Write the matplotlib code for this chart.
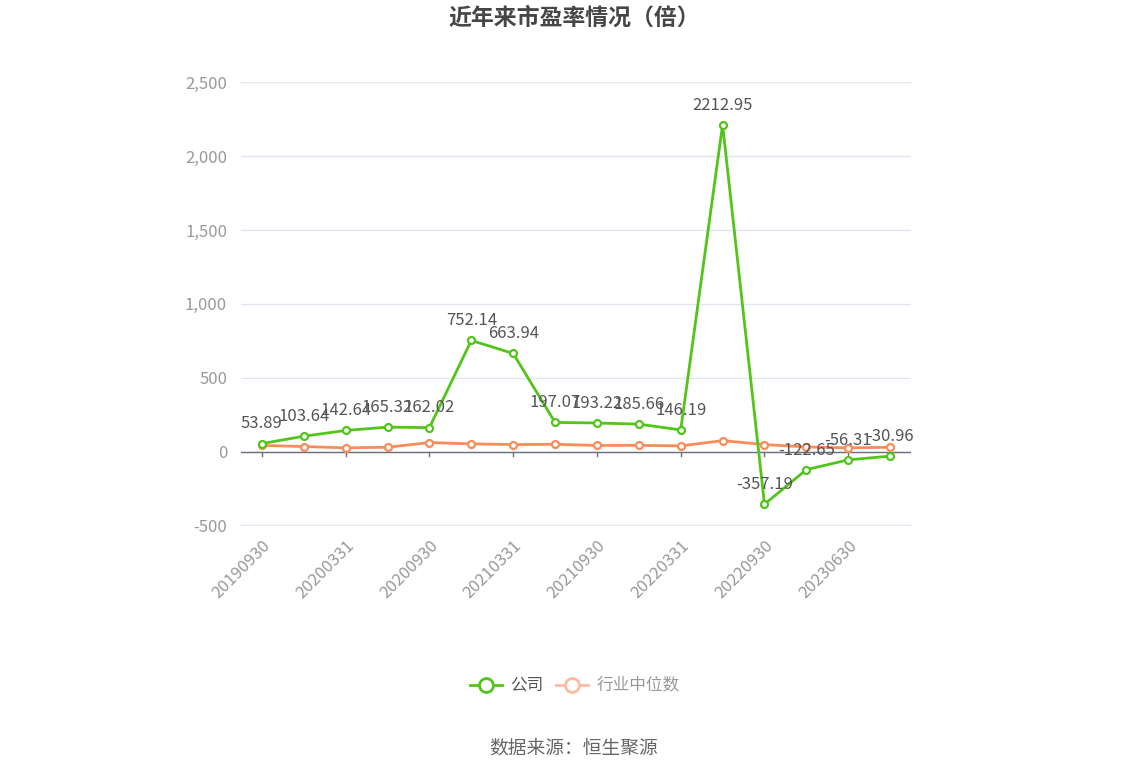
import numpy as np
import matplotlib
matplotlib.use("Agg")
import matplotlib.pyplot as plt

plt.rcParams['font.family'] = ['Noto Sans CJK SC', 'DejaVu Sans']

# 数据
dates = ["20190930", "20191231", "20200331", "20200630", "20200930", "20201231",
         "20210331", "20210630", "20210930", "20211231", "20220331", "20220630",
         "20220930", "20230331", "20230630", "20230930"]
company_pe = [53.89, 103.64, 142.64, 165.32, 162.02, 752.14, 663.94, 197.07,
              193.22, 185.66, 146.19, 2212.95, -357.19, -122.65, -56.31, -30.96]
industry_pe = [41, 34, 25, 29, 61, 52, 47, 49, 41, 42, 38, 74, 47, 31, 25, 29]
yticks = [-500, 0, 500, 1000, 1500, 2000, 2500]

GREEN = "#52c41a"
ORANGE = "#fa8c5a"

fig = plt.figure(figsize=(11.48, 7.76), dpi=100)
ax = fig.add_axes([0.2099, 0.3222, 0.5837, 0.5725])

x = np.arange(len(dates))
ax.plot(x, industry_pe, color=ORANGE, lw=2, marker="o", ms=5, mfc="white",
        mec=ORANGE, mew=1.6, zorder=3)
ax.plot(x, company_pe, color=GREEN, lw=2, marker="o", ms=5, mfc="white",
        mec=GREEN, mew=1.6, zorder=4)

for xi, v in zip(x, company_pe):
    ax.annotate(f"{v:.2f}", (xi, v), xytext=(0, 8), textcoords="offset points",
                ha="center", va="bottom", fontsize=12, color="#555555", zorder=5)

ax.set_xlim(-0.5, len(dates) - 0.5)
ax.set_ylim(-504, 2504)
ax.set_yticks(yticks)
ax.set_yticklabels([f"{t:,}" for t in yticks])
ax.grid(axis="y", color="#e0e6f1", lw=1)
ax.set_axisbelow(True)
for s in ax.spines.values():
    s.set_visible(False)
ax.axhline(0, color="#6e7079", lw=1, zorder=2)

ax.set_xticks(x[::2])
ax.set_xticklabels(dates[::2], rotation=45, ha="right", rotation_mode="anchor")
ax.tick_params(axis="x", length=0, labelsize=12, labelcolor="#999999", pad=8)
ax.tick_params(axis="y", length=0, labelsize=12, labelcolor="#999999", pad=10)
# 零线上的刻度
for xi in x[::2]:
    ax.plot([xi, xi], [0, -30], color="#6e7079", lw=1, zorder=2, clip_on=False)

fig.text(0.5, 1 - 18 / 776, "近年来市盈率情况（倍）", ha="center", va="center",
         fontsize=16.5, fontweight="bold", color="#464646")

# 图例
ly = 1 - 685 / 776
fig.lines.append(plt.Line2D([470 / 1148, 502 / 1148], [ly, ly], color=GREEN, lw=2,
                            transform=fig.transFigure))
fig.lines.append(plt.Line2D([486 / 1148], [ly], marker="o", ms=10, mfc="white",
                            mec=GREEN, mew=2, transform=fig.transFigure))
fig.text(510 / 1148, ly, "公司", ha="left", va="center", fontsize=12, color="#555555")
fig.lines.append(plt.Line2D([556 / 1148, 588 / 1148], [ly, ly], color="#fdbba2", lw=2,
                            transform=fig.transFigure))
fig.lines.append(plt.Line2D([572 / 1148], [ly], marker="o", ms=10, mfc="white",
                            mec="#fdbba2", mew=2, transform=fig.transFigure))
fig.text(597 / 1148, ly, "行业中位数", ha="left", va="center", fontsize=12, color="#999999")

fig.text(0.5, 1 - 748 / 776, "数据来源：恒生聚源", ha="center", va="center",
         fontsize=13.5, color="#666666")

fig.savefig("out.png", dpi=100)
